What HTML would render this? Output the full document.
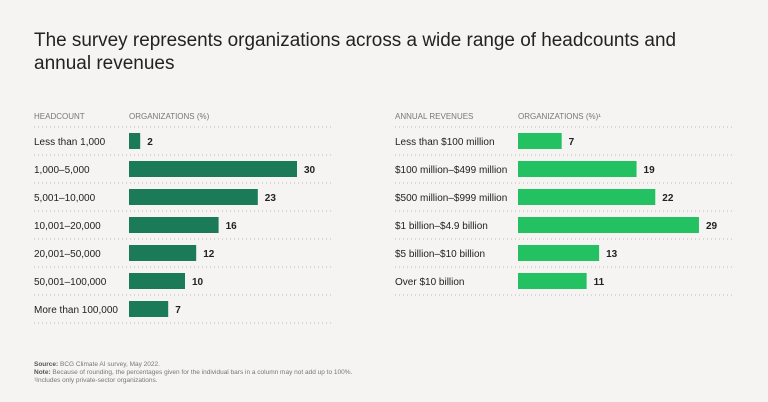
<!DOCTYPE html>
<html><head><meta charset="utf-8"><style>
body{margin:0;background:#f5f4f2;}
svg{display:block;font-family:"Liberation Sans",sans-serif;}
</style></head><body>
<svg width="768" height="402">
<rect width="768" height="402" fill="#f5f4f2"/>
<text x="34" y="46" font-size="19" fill="#222" textLength="642" lengthAdjust="spacingAndGlyphs">The survey represents organizations across a wide range of headcounts and</text>
<text x="34" y="69" font-size="19" fill="#222">annual revenues</text>
<g id="left"></g>
<g id="right"></g>
<g font-size="6.5" fill="#777">
<text x="34" y="366"><tspan font-weight="bold" fill="#555">Source:</tspan> BCG Climate AI survey, May 2022.</text>
<text x="34" y="374"><tspan font-weight="bold" fill="#555">Note:</tspan> Because of rounding, the percentages given for the individual bars in a column may not add up to 100%.</text>
<text x="34" y="382">¹Includes only private-sector organizations.</text>
</g>
</svg>
<script>
const headCats=["Less than 1,000","1,000–5,000","5,001–10,000","10,001–20,000","20,001–50,000","50,001–100,000","More than 100,000"];
const headVals=[2,30,23,16,12,10,7];
const revCats=["Less than $100 million","$100 million–$499 million","$500 million–$999 million","$1 billion–$4.9 billion","$5 billion–$10 billion","Over $10 billion"];
const revVals=[7,19,22,29,13,11];
const NS="http://www.w3.org/2000/svg";
function mk(p,t,a){const e=document.createElementNS(NS,t);for(const k in a)e.setAttribute(k,a[k]);p.appendChild(e);return e;}
function panel(g,cats,vals,lx,bx,rx,scale,color,h1,h2){
  let t=mk(g,'text',{x:lx,y:119,'font-size':8,fill:'#777'});t.textContent=h1;
  
  t=mk(g,'text',{x:bx,y:119,'font-size':8,fill:'#777'});t.textContent=h2;
  
  const y0=127,step=28;
  for(let i=0;i<=cats.length;i++){
    const l=mk(g,'line',{x1:lx,x2:rx,y1:y0+i*step,y2:y0+i*step,stroke:'#bbb','stroke-width':1,'stroke-dasharray':'1 3'});
    
    if(i==cats.length)break;
    const cy=y0+i*step+14;
    const c=mk(g,'text',{x:lx,y:cy+4,'font-size':10,fill:'#222'});c.textContent=cats[i];
    
    const w=vals[i]*scale;
    const r=mk(g,'rect',{x:bx,y:cy-8,width:w,height:16,fill:color});
    
    const v=mk(g,'text',{x:bx+w+7,y:cy+4,'font-size':10,'font-weight':'bold',fill:'#222'});v.textContent=vals[i];
    
  }
}
panel(document.getElementById('left'),headCats,headVals,34,129,334,5.6,'#1b7a57','HEADCOUNT','ORGANIZATIONS (%)');
panel(document.getElementById('right'),revCats,revVals,395,518,732,6.24,'#24c163','ANNUAL REVENUES','ORGANIZATIONS (%)¹');
</script>
</body></html>
